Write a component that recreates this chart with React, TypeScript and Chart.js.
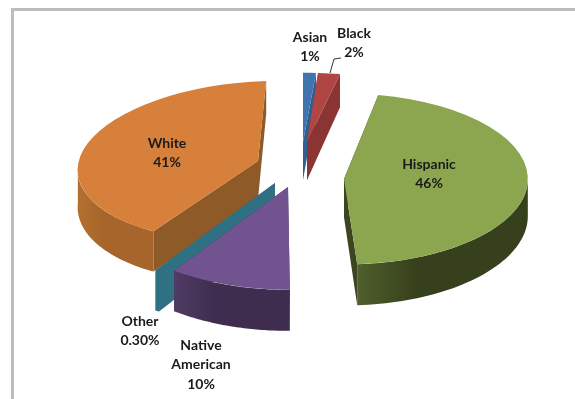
import React, { useEffect, useRef } from "react";
import { Chart, registerables } from "chart.js";

Chart.register(...registerables);

const categories = ["Asian", "Black", "Hispanic", "Native American", "Other", "White"];
const shares = [1, 2, 46, 10, 0.3, 41];
const shareTexts = ["1%", "2%", "46%", "10%", "0.30%", "41%"];

const topColors = ["#3f74ad", "#b04644", "#8ba64e", "#71548f", "#2f7183", "#d7803b"];
const faceColors = ["#2f5f93", "#8a3534", "#3b4520", "#3e2d4f", "#2f7183", "#8d5a28"];
const wallStart = ["#2f5f93", "#8a3534", "#505f2c", "#503c64", "#2f7183", "#b4702f"];
const wallEnd = ["#2f5f93", "#8a3534", "#36401c", "#3e2d4f", "#2f7183", "#a7652b"];

// Back-to-front painting order of the slices (indices into categories).
const paintOrder = [0, 1, 5, 4, 3, 2];

// How each exploded slice sits in the tilted view: shift, horizontal and
// vertical scale, and small shears from the camera's perspective.
const sliceViews = [
  { dx: 3, dy: -24, sx: 1.14, sy: 0.38, shear: 0, lean: 0 },
  { dx: 7, dy: -24, sx: 0.97, sy: 0.38, shear: 0, lean: 0 },
  { dx: 44, dy: 13, sx: 1.01, sy: 0.47, shear: 0, lean: 0 },
  { dx: -12, dy: 21, sx: 1.08, sy: 0.564, shear: 0.036, lean: -0.068 },
  { dx: -25, dy: 17, sx: 1.21, sy: 0.57, shear: 0, lean: 0 },
  { dx: -42, dy: -5, sx: 0.99, sy: 0.44, shear: -0.03, lean: -0.045 },
];

const labelSpots = [
  { x: 310, y: 37, lines: ["Asian"] },
  { x: 354, y: 33, lines: ["Black"] },
  { x: 429, y: 164, lines: ["Hispanic"] },
  { x: 201, y: 345, lines: ["Native", "American"] },
  { x: 140, y: 321, lines: ["Other"] },
  { x: 167, y: 143, lines: ["White"] },
];

const extrudeDepth = (sinAngle: number) => 37 + 4 * sinAngle;

const pie3d = {
  id: "pie3d",
  beforeDatasetDraw(chart: any) {
    const { ctx } = chart;
    const arcs = chart.getDatasetMeta(0).data;

    paintOrder.forEach((i) => {
      const arc = arcs[i];
      const v = sliceViews[i];
      const { x: cx, y: cy, outerRadius: R, startAngle, endAngle } = arc;
      const toScreen = (a: number, r: number) => {
        const lx = r * Math.cos(a);
        const ly = r * Math.sin(a);
        return [cx + v.dx + v.sx * lx + v.lean * ly, cy + v.dy + v.shear * lx + v.sy * ly];
      };
      const quad = (a: number) => {
        const inner = toScreen(a, 0);
        const outer = toScreen(a, R);
        const dIn = extrudeDepth(0.3);
        const dOut = extrudeDepth(Math.sin(a));
        ctx.beginPath();
        ctx.moveTo(inner[0], inner[1]);
        ctx.lineTo(outer[0], outer[1]);
        ctx.lineTo(outer[0], outer[1] + dOut);
        ctx.lineTo(inner[0], inner[1] + dIn);
        ctx.closePath();
        ctx.fillStyle = faceColors[i];
        ctx.fill();
      };

      quad(endAngle);
      quad(startAngle);

      // Curved outer wall, only where the rim faces the viewer.
      const from = Math.max(startAngle, 0);
      const to = Math.min(endAngle, Math.PI);
      if (to > from) {
        const steps = 48;
        const rim: number[][] = [];
        for (let s = 0; s <= steps; s++) rim.push(toScreen(from + ((to - from) * s) / steps, R));
        const xs = rim.map((p) => p[0]);
        const minX = Math.min(...xs);
        const maxX = Math.max(...xs);
        const fill = ctx.createLinearGradient(minX, 0, maxX, 0);
        fill.addColorStop(0, wallStart[i]);
        fill.addColorStop(0.35, wallEnd[i]);
        fill.addColorStop(1, wallEnd[i]);
        ctx.beginPath();
        rim.forEach((p, s) => (s ? ctx.lineTo(p[0], p[1]) : ctx.moveTo(p[0], p[1])));
        for (let s = steps; s >= 0; s--) {
          const a = from + ((to - from) * s) / steps;
          ctx.lineTo(rim[s][0], rim[s][1] + extrudeDepth(Math.sin(a)));
        }
        ctx.closePath();
        ctx.fillStyle = fill;
        ctx.fill();
      }

      // Top surface: the library's own arc under the slice's view transform.
      ctx.save();
      ctx.transform(v.sx, v.shear, v.lean, v.sy, cx + v.dx, cy + v.dy);
      ctx.translate(-cx, -cy);
      arc.draw(ctx);
      ctx.restore();
    });
    return false;
  },
  afterDatasetsDraw(chart: any) {
    const { ctx } = chart;
    ctx.save();
    ctx.fillStyle = "#1a1a1a";
    ctx.font = "bold 14px Lato";
    ctx.textAlign = "center";
    ctx.textBaseline = "middle";
    labelSpots.forEach((spot, i) => {
      const lines = [...spot.lines, shareTexts[i]];
      lines.forEach((line, n) => ctx.fillText(line, spot.x, spot.y + n * 19.5));
    });
    // Leader line from the Black slice to its label.
    ctx.strokeStyle = "#333333";
    ctx.lineWidth = 1;
    ctx.beginPath();
    ctx.moveTo(330, 73);
    ctx.lineTo(334, 59);
    ctx.lineTo(341, 58);
    ctx.stroke();
    ctx.restore();
  },
};

export default function App() {
  const canvasRef = useRef<HTMLCanvasElement | null>(null);

  useEffect(() => {
    document.body.style.margin = "0";
    const chart = new Chart(canvasRef.current as HTMLCanvasElement, {
      type: "pie",
      data: {
        labels: categories,
        datasets: [
          {
            data: shares,
            backgroundColor: topColors,
            borderWidth: 0,
            radius: 182,
          },
        ],
      },
      options: {
        responsive: false,
        animation: false,
        layout: { padding: { left: 25, bottom: 67 } },
        plugins: { legend: { display: false }, tooltip: { enabled: false } },
      },
      plugins: [pie3d],
    } as any);
    return () => chart.destroy();
  }, []);

  return (
    <div style={{ position: "relative", width: 575, height: 399, overflow: "hidden", background: "#fff" }}>
      <div
        style={{
          position: "absolute",
          left: 11,
          top: 8,
          width: 600,
          height: 500,
          borderLeft: "3px solid #bdbdbd",
          borderTop: "3px solid #bdbdbd",
        }}
      />
      <canvas
        ref={canvasRef}
        width={575}
        height={399}
        style={{ position: "absolute", left: 0, top: 0, display: "block" }}
      />
    </div>
  );
}
